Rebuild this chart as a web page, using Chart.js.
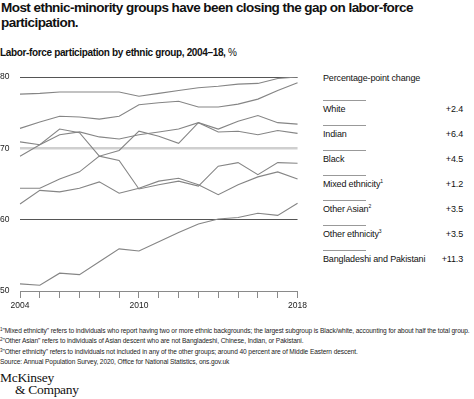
<!DOCTYPE html>
<html>
<head>
<meta charset="utf-8">
<script src="https://cdn.jsdelivr.net/npm/chart.js@4/dist/chart.umd.min.js"></script>
<style>
  body { margin: 0; width: 474px; height: 399px; background: #fff; position: relative; overflow: hidden;
         font-family: "Liberation Sans", Arial, sans-serif; color: #111; }
  .abs { position: absolute; white-space: nowrap; }
  #title { left: 1px; top: 0; font-size: 13.5px; line-height: 15px; font-weight: bold; letter-spacing: -0.55px; white-space: normal; width: 440px; }
  #subtitle { left: 0; top: 47px; font-size: 10px; line-height: 12px; font-weight: bold; letter-spacing: -0.35px; }
  #subtitle span { font-weight: normal; }
  #chartBox { left: 0; top: 65px; width: 310px; height: 250px; }
  #legHead { left: 323px; top: 73px; font-size: 9px; line-height: 10px; letter-spacing: -0.15px; }
  .leg { left: 323px; width: 140px; font-size: 9px; line-height: 10px; letter-spacing: -0.15px; }
  .leg .rule { position: absolute; left: 0; top: -4px; width: 43px; border-top: 1px solid #999; }
  .leg .val { position: absolute; right: 0; top: 0; }
  .leg sup { font-size: 5px; vertical-align: 4px; line-height: 0; }
  #notes { left: 0; top: 326px; font-size: 6.6px; line-height: 10.3px; letter-spacing: -0.1px; color: #222; }
  #notes sup { font-size: 4.5px; vertical-align: 2.5px; line-height: 0; }
  #logo { left: 0; top: 372px; font-family: "Liberation Serif", "DejaVu Serif", serif; font-size: 13.5px; line-height: 11.5px; letter-spacing: -0.3px; }
  #logo span { padding-left: 15px; }
</style>
</head>
<body>
<div id="title" class="abs">Most ethnic-minority groups have been closing the gap on labor-force participation.</div>
<div id="subtitle" class="abs">Labor-force participation by ethnic group, 2004–18, <span>%</span></div>
<div id="chartBox" class="abs"><canvas id="myChart" width="310" height="250"></canvas></div>
<div id="legHead" class="abs">Percentage-point change</div>
<div id="legend"></div>
<div id="notes" class="abs">
  <sup>1</sup>"Mixed ethnicity" refers to individuals who report having two or more ethnic backgrounds; the largest subgroup is Black/white, accounting for about half the total group.<br>
  <sup>2</sup>"Other Asian" refers to individuals of Asian descent who are not Bangladeshi, Chinese, Indian, or Pakistani.<br>
  <sup>3</sup>"Other ethnicity" refers to individuals not included in any of the other groups; around 40 percent are of Middle Eastern descent.<br>
  Source: Annual Population Survey, 2020, Office for National Statistics, ons.gov.uk
</div>
<div id="logo" class="abs">McKinsey<br><span>&amp; Company</span></div>
<script>
var years = ['2004', '2005', '2006', '2007', '2008', '2009', '2010', '2011',
    '2012', '2013', '2014', '2015', '2016', '2017', '2018'];
var yearLabels = ['2004', '2010', '2018'];
var yTicks = [50, 60, 70, 80];

var white = [77.6, 77.7, 77.9, 77.9, 77.9, 77.9, 77.3, 77.7, 78.1, 78.5, 78.7, 79.0, 79.1, 79.8, 80.0];
var indian = [72.8, 73.7, 74.5, 74.4, 74.1, 74.5, 76.1, 76.4, 76.6, 75.8, 75.8, 76.2, 76.9, 78.1, 79.2];
var black = [68.9, 70.5, 71.9, 72.3, 71.6, 71.3, 71.9, 72.3, 72.7, 73.6, 72.7, 73.8, 74.6, 73.6, 73.4];
var mixed = [70.9, 70.5, 72.7, 72.2, 68.9, 69.7, 72.4, 71.7, 70.7, 73.6, 72.3, 72.4, 71.9, 72.5, 72.1];
var otherAsian = [64.4, 64.4, 65.7, 66.7, 68.9, 68.3, 64.3, 64.9, 65.4, 64.7, 67.5, 68.0, 66.3, 68.0, 67.9];
var otherEthnicity = [62.2, 64.1, 63.9, 64.4, 65.3, 63.7, 64.4, 65.4, 65.8, 64.9, 63.5, 64.9, 66.0, 66.7, 65.7];
var bangladeshiPakistani = [51.0, 50.8, 52.5, 52.3, 54.1, 55.9, 55.6, 56.9, 58.2, 59.4, 60.1, 60.3, 60.9, 60.6, 62.3];

var groups = ['White', 'Indian', 'Black', 'Mixed ethnicity', 'Other Asian', 'Other ethnicity', 'Bangladeshi and Pakistani'];
var groupNotes = ['', '', '', '1', '2', '3', ''];
var changes = ['+2.4', '+6.4', '+4.5', '+1.2', '+3.5', '+3.5', '+11.3'];
var series = [white, indian, black, mixed, otherAsian, otherEthnicity, bangladeshiPakistani];

// legend on the right
var legend = document.getElementById('legend');
groups.forEach(function (g, i) {
    var d = document.createElement('div');
    d.className = 'abs leg';
    d.style.top = (104 + i * 25) + 'px';
    d.innerHTML = '<div class="rule"></div>' + g + (groupNotes[i] ? '<sup>' + groupNotes[i] + '</sup>' : '') +
        '<span class="val">' + changes[i] + '</span>';
    legend.appendChild(d);
});

var tickFont = { family: 'Liberation Sans', size: 8.5 };

var ctx = document.getElementById('myChart').getContext('2d');
var chart = new Chart(ctx, {
    type: 'line',
    data: {
        labels: years,
        datasets: series.map(function (s, i) {
            return {
                label: groups[i],
                data: s,
                borderColor: '#858585',
                borderWidth: 1.1,
                pointRadius: 0,
                tension: 0,
                fill: false
            };
        })
    },
    options: {
        responsive: false,
        animation: false,
        events: [],
        layout: { padding: { left: 0, right: 12, top: 12, bottom: 0 } },
        plugins: { legend: { display: false }, tooltip: { enabled: false } },
        scales: {
            x: {
                grid: { drawOnChartArea: false, drawTicks: true, tickLength: 7, color: '#8a8a8a' },
                border: { display: true, color: '#8a8a8a', width: 1 },
                ticks: {
                    autoSkip: false, maxRotation: 0, padding: 3, color: '#222', font: tickFont,
                    callback: function (v, i) {
                        var y = years[i];
                        return yearLabels.indexOf(y) >= 0 ? y : '';
                    }
                },
                afterFit: function (scale) { scale.height = 24; }
            },
            y: {
                min: 50, max: 80,
                afterBuildTicks: function (scale) {
                    scale.ticks = yTicks.map(function (v) { return { value: v }; });
                },
                grid: {
                    drawTicks: false,
                    color: function (c) {
                        if (c.tick.value === 70) return '#cfcfcf';
                        if (c.tick.value === 50) return 'rgba(0,0,0,0)';
                        return '#555';
                    },
                    lineWidth: function (c) { return c.tick.value === 70 ? 2.5 : 1; }
                },
                border: { display: false },
                ticks: { crossAlign: 'far', padding: 0, color: '#222', font: tickFont },
                afterFit: function (scale) { scale.width = 20; }
            }
        }
    }
});
</script>
</body>
</html>
